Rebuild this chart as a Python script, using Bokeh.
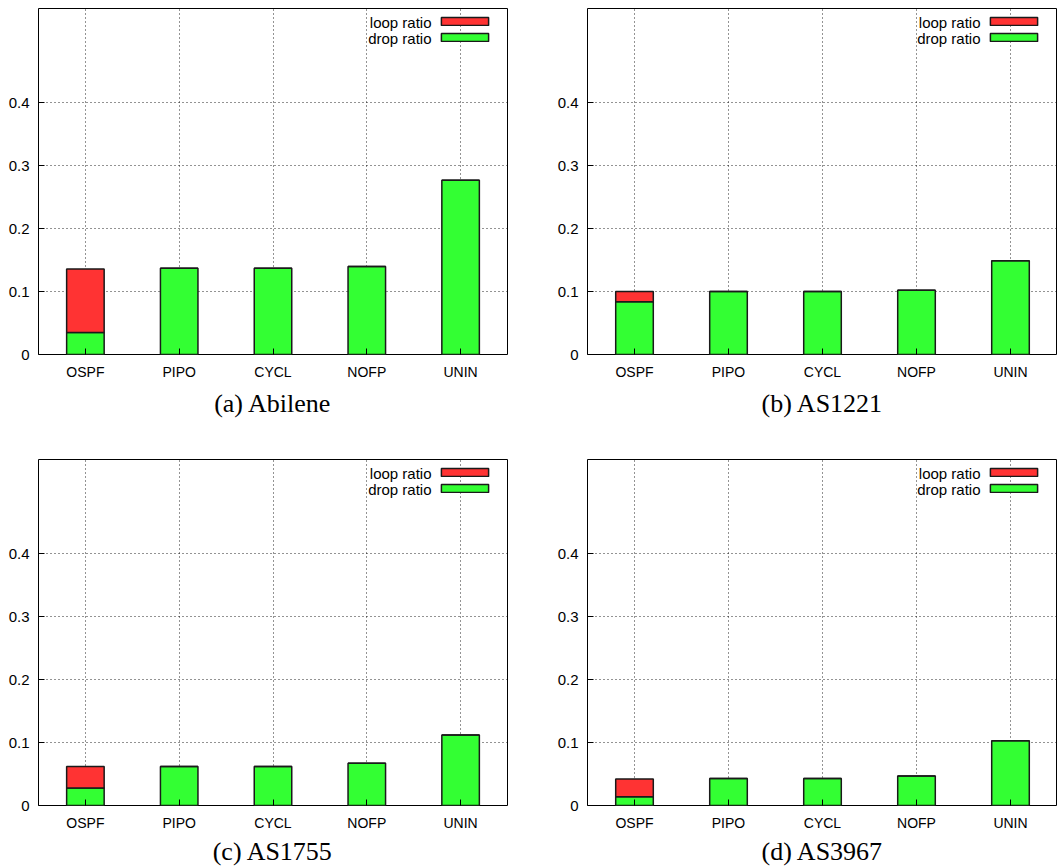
## ----- IMPORTS ----- ##
from bokeh.plotting import figure
from bokeh.layouts import column, row
from bokeh.models import (ColumnDataSource, FactorRange, Range1d, FixedTicker,
                          NumeralTickFormatter, Legend, LegendItem, Label, Title)
from bokeh.embed import file_html
from bokeh.resources import INLINE


## ----- DATA ----- ##
SCHEMES = ['OSPF', 'PIPO', 'CYCL', 'NOFP', 'UNIN']

ABILENE_DROP = [0.035, 0.137, 0.137, 0.140, 0.277]
ABILENE_LOOP = [0.101, 0.0, 0.0, 0.0, 0.0]

AS1221_DROP = [0.084, 0.100, 0.100, 0.102, 0.149]
AS1221_LOOP = [0.016, 0.0, 0.0, 0.0, 0.0]

AS1755_DROP = [0.028, 0.062, 0.062, 0.067, 0.112]
AS1755_LOOP = [0.034, 0.0, 0.0, 0.0, 0.0]

AS3967_DROP = [0.014, 0.043, 0.043, 0.047, 0.103]
AS3967_LOOP = [0.028, 0.0, 0.0, 0.0, 0.0]

CAPTIONS = ['(a) Abilene', '(b) AS1221', '(c) AS1755', '(d) AS3967']
LEGEND_LABELS = ['loop ratio', 'drop ratio']
Y_TICKS = [0, 0.1, 0.2, 0.3, 0.4]
Y_MAX = 0.55


## ----- STYLE ----- ##
RED = '#ff3333'
GREEN = '#33ff33'
EDGE = '#1a1a1a'
SANS = 'Liberation Sans'
SERIF = 'Liberation Serif'
FRAME_H = 346


def make_panel(drop, loop, caption, width, height, b_left, b_right, b_top, b_bottom, cap_standoff):
    p = figure(x_range=FactorRange(*SCHEMES), y_range=Range1d(0, Y_MAX),
               width=width, height=height,
               min_border_left=b_left, min_border_right=b_right,
               min_border_top=b_top, min_border_bottom=b_bottom,
               output_backend="svg", toolbar_location=None, tools="")

    src = ColumnDataSource(dict(scheme=SCHEMES, drop=drop,
                                total=[d + l for d, l in zip(drop, loop)]))

    r_drop = p.vbar(x='scheme', bottom=0, top='drop', width=0.4, source=src,
                    fill_color=GREEN, line_color=EDGE, line_width=1.5)
    r_loop = p.vbar(x='scheme', bottom='drop', top='total', width=0.4, source=src,
                    fill_color=RED, line_color=EDGE, line_width=1.5)

    # axes, gnuplot look
    for ax in (p.xaxis, p.yaxis):
        ax.axis_line_color = None
        ax.major_tick_in = 6
        ax.major_tick_out = 0
        ax.major_tick_line_color = 'black'
        ax.minor_tick_line_color = None
        ax.major_label_text_font = SANS
        ax.major_label_text_color = 'black'
    p.xaxis.major_label_text_font_size = '14px'
    p.yaxis.major_label_text_font_size = '15px'
    p.xaxis.major_label_standoff = 9
    p.yaxis.major_label_standoff = 9
    p.yaxis.ticker = FixedTicker(ticks=Y_TICKS)
    p.yaxis.formatter = NumeralTickFormatter(format="0.[0]")

    p.grid.grid_line_color = 'black'
    p.grid.grid_line_alpha = 0.85
    p.grid.grid_line_dash = "1 3"
    p.grid.grid_line_width = 1

    p.outline_line_color = 'black'
    p.outline_line_width = 1
    p.outline_line_alpha = 1

    # legend: swatches from the library, text placed to their left like gnuplot
    legend = Legend(items=[LegendItem(label="", renderers=[r_loop]),
                           LegendItem(label="", renderers=[r_drop])],
                    location=(397, FRAME_H - 34), orientation="vertical",
                    glyph_width=59, glyph_height=10, spacing=6,
                    label_standoff=0, label_width=0, label_height=10,
                    label_text_font_size='1px', padding=0, margin=0,
                    border_line_color=None, background_fill_alpha=0)
    p.add_layout(legend)

    for txt, ym in zip(LEGEND_LABELS, [FRAME_H - 13.5, FRAME_H - 29.5]):
        p.add_layout(Label(x=393, y=ym, x_units='screen', y_units='screen', text=txt,
                           text_align='right', text_baseline='middle',
                           text_font=SANS, text_font_size='15px', text_color='black'))

    p.add_layout(Title(text=caption, align='center', vertical_align='bottom',
                       text_baseline='alphabetic', standoff=cap_standoff,
                       text_font=SERIF, text_font_size='26px',
                       text_font_style='normal', text_color='black'), 'below')
    return p


p_a = make_panel(ABILENE_DROP, ABILENE_LOOP, CAPTIONS[0], 530, 437, 38, 23, 8, 83, 8)
p_b = make_panel(AS1221_DROP, AS1221_LOOP, CAPTIONS[1], 527, 437, 57, 0, 8, 83, 8)
p_c = make_panel(AS1755_DROP, AS1755_LOOP, CAPTIONS[2], 530, 430, 38, 23, 22, 62, 2)
p_d = make_panel(AS3967_DROP, AS3967_LOOP, CAPTIONS[3], 527, 430, 57, 0, 22, 62, 2)

p = column(row(p_a, p_b), row(p_c, p_d))

open("out.html", "w").write(file_html(p, INLINE))
